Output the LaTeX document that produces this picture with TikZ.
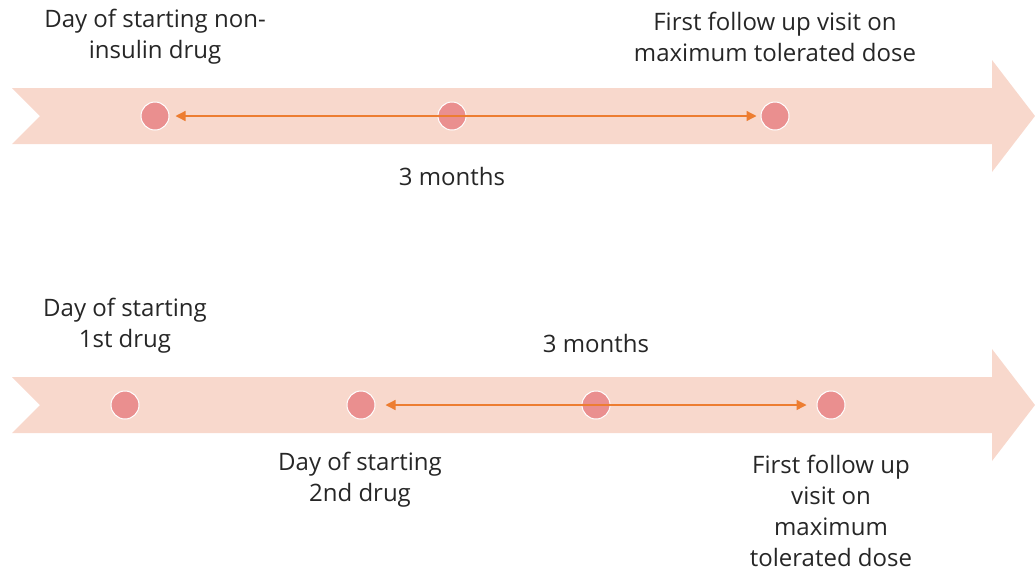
\documentclass[tikz,border=0pt]{standalone}
\usepackage{fontspec}
\setmainfont{Open Sans}
\usetikzlibrary{arrows.meta}
\definecolor{band}{HTML}{F8D8CC}
\definecolor{dotc}{HTML}{EA8F8F}
\definecolor{lineo}{HTML}{ED7D31}
\definecolor{txt}{HTML}{262626}
\begin{document}
\begin{tikzpicture}[x=1pt,y=-1pt,
  bandshape/.style={fill=band,draw=none},
  dot/.style={circle,fill=dotc,draw=white,line width=1pt,minimum size=28pt,inner sep=0pt},
  span/.style={draw=lineo,line width=1.3pt,{Triangle[length=10pt,width=10pt]}-{Triangle[length=10pt,width=10pt]}},
  lbl/.style={text=txt,font=\fontsize{24}{31}\selectfont,align=center,inner sep=0pt}]
\useasboundingbox (0,0) rectangle (1035,574);
% top band
\fill[bandshape] (12,88) -- (992,88) -- (992,60) -- (1035,116) -- (992,172) -- (992,144) -- (12,144) -- (40,116) -- cycle;
% bottom band
\fill[bandshape] (12,377) -- (992,377) -- (992,349) -- (1035,405) -- (992,461) -- (992,433) -- (12,433) -- (40,405) -- cycle;
% top dots
\node[dot] (a1) at (155,116) {};
\node[dot] (a2) at (452,116) {};
\node[dot] (a3) at (775,116) {};
\path (a1.east) ++(6,0) coordinate (a1e);
\path (a3.west) ++(-4,0) coordinate (a3w);
\draw[span] (a1e) -- (a3w);
% bottom dots
\node[dot] (b1) at (125,405) {};
\node[dot] (b2) at (361,405) {};
\node[dot] (b3) at (596,405) {};
\node[dot] (b4) at (831,405) {};
\path (b2.east) ++(10,0) coordinate (b2e);
\path (b4.west) ++(-10,0) coordinate (b4w);
\draw[span] (b2e) -- (b4w);
% labels
\node[lbl] (t1) at (155,37) {Day of starting non-\\insulin drug};
\node[lbl] (t2) at (775,37) {First follow up visit on\\maximum tolerated dose};
\node[lbl] (t3) at (452,176) {3 months};
\node[lbl] (u1) at (125,326) {Day of starting\\1st drug};
\node[lbl] (u2) at (596,343) {3 months};
\node[lbl] (u3) at (360,480) {Day of starting\\2nd drug};
\node[lbl] (u4) at (831,511) {First follow up\\visit on\\maximum\\tolerated dose};
\end{tikzpicture}
\end{document}
